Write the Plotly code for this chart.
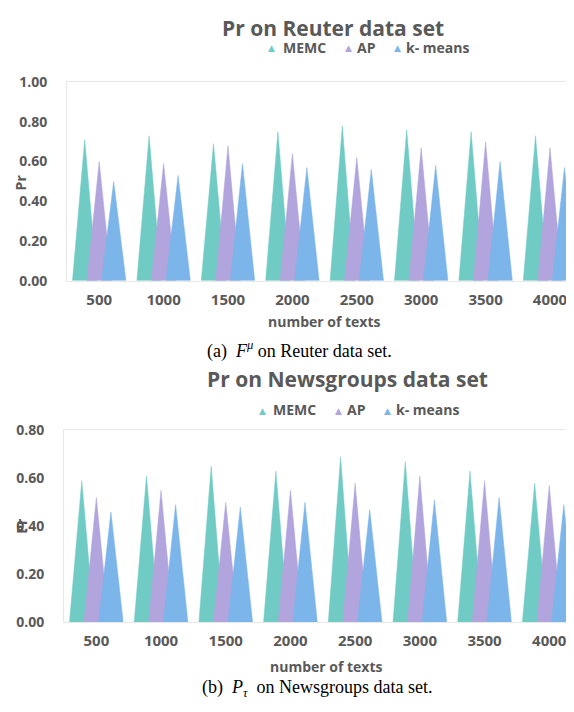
import plotly.graph_objects as go

categories = ["500", "1000", "1500", "2000", "2500", "3000", "3500", "4000"]
series_names = ["MEMC", "AP", "k- means"]
colors = ["#70CBC5", "#B2A4DD", "#7CB5EA"]

reuter_memc = [0.71, 0.73, 0.69, 0.75, 0.78, 0.76, 0.75, 0.73]
reuter_ap = [0.60, 0.59, 0.68, 0.64, 0.62, 0.67, 0.70, 0.67]
reuter_kmeans = [0.50, 0.53, 0.59, 0.57, 0.56, 0.58, 0.60, 0.57]

news_memc = [0.59, 0.61, 0.65, 0.63, 0.69, 0.67, 0.63, 0.58]
news_ap = [0.52, 0.55, 0.50, 0.55, 0.58, 0.61, 0.59, 0.57]
news_kmeans = [0.46, 0.49, 0.48, 0.50, 0.47, 0.51, 0.52, 0.49]

# page body has an 8px margin: figure is offset by (8, 8) in the window
OFF = 8
W, H = 574 - OFF, 712 - 2 * OFF
offsets = [-0.225, 0.0, 0.225]
half_w = 0.19
GRAY = "#595959"
FONT = "Open Sans"


def px(x):
    return (x - OFF) / W


def py(y):
    return 1 - (y - OFF) / H


def triangles(vals, off):
    xs, ys = [], []
    for i, v in enumerate(vals):
        c = i + off
        xs += [c - half_w, c, c + half_w, None]
        ys += [0, v, 0, None]
    return xs, ys


fig = go.Figure()

for axn, data in (("", [reuter_memc, reuter_ap, reuter_kmeans]),
                  ("2", [news_memc, news_ap, news_kmeans])):
    for name, vals, off, col in zip(series_names, data, offsets, colors):
        xs, ys = triangles(vals, off)
        fig.add_trace(go.Scatter(
            x=xs, y=ys, mode="lines", fill="toself", fillcolor=col,
            line=dict(color=col, width=0.5), name=name, showlegend=False,
            xaxis="x" + axn, yaxis="y" + axn, hoverinfo="skip"))

tickfont = dict(family=FONT, size=14, color=GRAY, weight="bold")
xcommon = dict(tickvals=list(range(len(categories))), ticktext=categories,
               showgrid=False, zeroline=False, showline=True, mirror=True,
               linecolor="#E8E8E8", linewidth=1,
               tickfont=dict(family=FONT, size=15, color=GRAY, weight="bold"),
               ticks="", ticklabelstandoff=5, fixedrange=True)
ycommon = dict(showgrid=False, zeroline=False, showline=True, linecolor="#E8E8E8",
               linewidth=1, tickformat=".2f", tickfont=tickfont, ticks="",
               ticklabelstandoff=16, fixedrange=True)

fig.update_layout(
    width=W, height=H, margin=dict(l=0, r=0, t=0, b=0),
    paper_bgcolor="white", plot_bgcolor="white", showlegend=False,
    xaxis=dict(domain=[px(67), 1], range=[-0.5, -0.5 + (574 - 67) / 64.4], anchor="y", **xcommon),
    yaxis=dict(domain=[py(278), py(74)], range=[0, 1.0], dtick=0.2, anchor="x", **ycommon),
    xaxis2=dict(domain=[px(64), 1], range=[-0.5, -0.5 + (574 - 64) / 64.7], anchor="y2", **xcommon),
    yaxis2=dict(domain=[py(629), py(432)], range=[0, 0.8], dtick=0.2, anchor="x2", **ycommon),
)

bold = dict(family=FONT, size=14, color=GRAY, weight="bold")
anns = [
    dict(x=px(333), y=py(18), text="Pr on Reuter data set",
         font=dict(family=FONT, size=21, color=GRAY, weight="bold")),
    dict(x=px(20), y=py(177), text="Pr", textangle=-90, font=bold),
    dict(x=px(324), y=py(320), text="number of texts", font=bold),
    dict(x=px(299), y=py(349), text="(a)&nbsp;&nbsp;<i>F</i><sup><i>μ</i></sup> on Reuter data set.",
         font=dict(family="Liberation Serif", size=18, color="black")),
    dict(x=px(347), y=py(379), text="Pr on Newsgroups data set",
         font=dict(family=FONT, size=21, color=GRAY, weight="bold")),
    dict(x=px(22), y=py(530), text="Pr", textangle=-90, font=bold),
    dict(x=px(326), y=py(675), text="number of texts", font=bold),
    dict(x=px(317), y=py(697), text="(b)&nbsp;&nbsp;<i>P</i><sub><i>τ</i></sub>&nbsp;&nbsp;on Newsgroups data set.",
         font=dict(family="Liberation Serif", size=18, color="black")),
]

# legend rows: (triangle x, label left x) per series, and row y
legend_rows = [
    (38, [(271.5, 281), (348.5, 355), (397, 404)]),
    (411, [(262, 271), (338.5, 345), (387, 394)]),
]
for ly, items in legend_rows:
    for (tx, lx), name, col in zip(items, series_names, colors):
        anns.append(dict(x=px(tx), y=py(ly + 1), text="▲",
                         font=dict(family="DejaVu Sans", size=9, color=col)))
        anns.append(dict(x=px(lx), y=py(ly), text=name, xanchor="left", font=bold))

for a in anns:
    a.setdefault("xanchor", "center")
    a.update(xref="paper", yref="paper", showarrow=False, yanchor="middle")
fig.update_layout(annotations=anns)

fig.write_html("out.html")
